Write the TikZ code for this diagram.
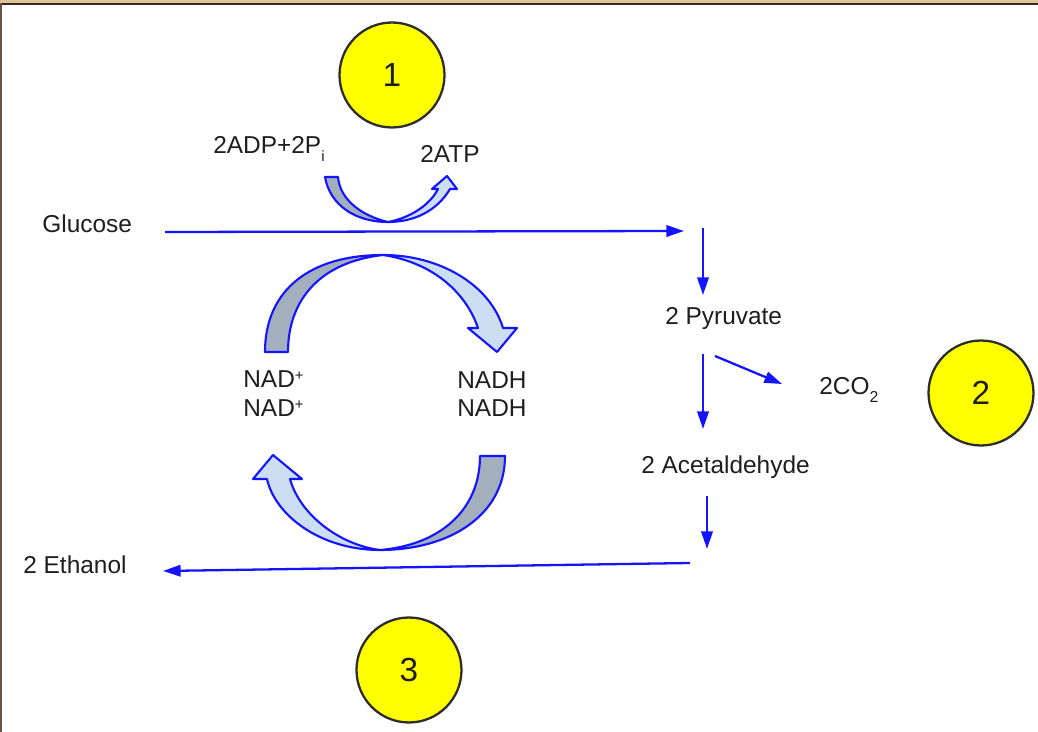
\documentclass[tikz,border=0pt]{standalone}
\usepackage{fontspec}
\setmainfont{Liberation Sans}
\usetikzlibrary{arrows.meta}
\definecolor{wood}{RGB}{222,196,150}
\definecolor{framebrown}{RGB}{60,42,28}
\definecolor{arrblue}{RGB}{20,20,255}
\definecolor{backgray}{RGB}{163,175,189}
\definecolor{frontblue}{RGB}{204,222,242}
\definecolor{ringgray}{RGB}{45,45,45}
\definecolor{circyellow}{RGB}{255,255,0}
\definecolor{txt}{RGB}{30,30,30}
\begin{document}
\begin{tikzpicture}[x=0.02cm,y=-0.02cm,
  lbl/.style={font=\fontsize{13.9}{16}\selectfont, anchor=base west, inner sep=0pt, text=txt},
  flow/.style={draw=arrblue, line width=1.3pt, -{Triangle[length=10pt,width=6.5pt]}},
  num/.style={circle, draw=ringgray, line width=1.3pt, fill=circyellow, minimum size=2.1cm, inner sep=0pt, font=\fontsize{19}{21}\selectfont, text=txt},
  band/.style={draw=arrblue, line width=1.2pt, line join=round}]
\useasboundingbox (0,0) rectangle (1038,732);
\fill[white] (0,0) rectangle (1038,732);
% frame
\fill[wood] (0,0) rectangle (1038,3);
\fill[framebrown] (0,3) rectangle (1038,5);
\fill[framebrown!80] (0,3) rectangle (2,732);

% numbered circles
\node[num] (c1) at (392,75) {1};
\node[num] (c2) at (981,393) {2};
\node[num] (c3) at (409,670) {3};

% labels
\node[lbl] (adp) at (213,154) {2ADP+2P\raisebox{-0.6ex}{\fontsize{8.5}{8.5}\selectfont i}};
\node[lbl] (atp) at (420,163) {2ATP};
\node[lbl] (glu) at (42,233) {Glucose};
\node[lbl] (pyr) at (665,325) {2 Pyruvate};
\node[lbl] (co2) at (819,395) {2CO\raisebox{-0.6ex}{\fontsize{9}{9}\selectfont 2}};
\node[lbl] (nad1) at (243,388) {NAD\raisebox{0.55ex}{\fontsize{8.5}{8.5}\selectfont +}};
\node[lbl] (nad2) at (243,417) {NAD\raisebox{0.55ex}{\fontsize{8.5}{8.5}\selectfont +}};
\node[lbl] (nadh1) at (457,389) {NADH};
\node[lbl] (nadh2) at (457,417) {NADH};
\node[lbl] (ace) at (641,474) {2 Acetaldehyde};
\node[lbl] (eth) at (23,574) {2 Ethanol};

% connector end points
\coordinate (g0) at (165,232);
\coordinate (g1) at (684,231);
\coordinate (p0) at (703,228);
\coordinate (p1) at (703,295);
\coordinate (q0) at (703,354);
\coordinate (q1) at (703,429);
\coordinate (d0) at (715,356);
\coordinate (d1) at (782,384);
\coordinate (a0) at (707,496);
\coordinate (a1) at (707,549);
\coordinate (e0) at (690,563);
\coordinate (e1) at (163,571);

\draw[flow] (g0) -- (g1);
\draw[flow] (p0) -- (p1);
\draw[flow] (q0) -- (q1);
\draw[flow] (d0) -- (d1);
\draw[flow] (a0) -- (a1);
\draw[flow] (e0) -- (e1);

% small curved arrow (ADP -> ATP)
\filldraw[band, fill=backgray] (325,177) .. controls (330,205) and (355,222) .. (388,222)
  .. controls (362,216) and (340,200) .. (338,177) -- cycle;
\filldraw[band, fill=frontblue] (388,222) .. controls (420,222) and (440,206) .. (450,189)
  -- (457,189) -- (447,176) -- (432,189) -- (438,189)
  .. controls (430,205) and (410,218) .. (388,222) -- cycle;

% large top curved arrow (NAD+ -> NADH)
\filldraw[band, fill=backgray] (265,352) .. controls (265,290) and (310,255) .. (383,255)
  .. controls (320,262) and (288,300) .. (288,352) -- cycle;
\filldraw[band, fill=frontblue] (383,255) .. controls (440,255) and (490,285) .. (503,328)
  -- (517,328) -- (497,352) -- (468,328) -- (478,328)
  .. controls (465,290) and (430,262) .. (383,255) -- cycle;

% large bottom curved arrow (NADH -> NAD+)
\filldraw[band, fill=backgray] (505,456) .. controls (505,515) and (450,550) .. (380,550)
  .. controls (440,545) and (480,510) .. (480,456) -- cycle;
\filldraw[band, fill=frontblue] (380,550) .. controls (320,550) and (275,515) .. (267,479)
  -- (253,479) -- (273,455) -- (302,479) -- (290,479)
  .. controls (300,515) and (340,545) .. (380,550) -- cycle;
\end{tikzpicture}
\end{document}
